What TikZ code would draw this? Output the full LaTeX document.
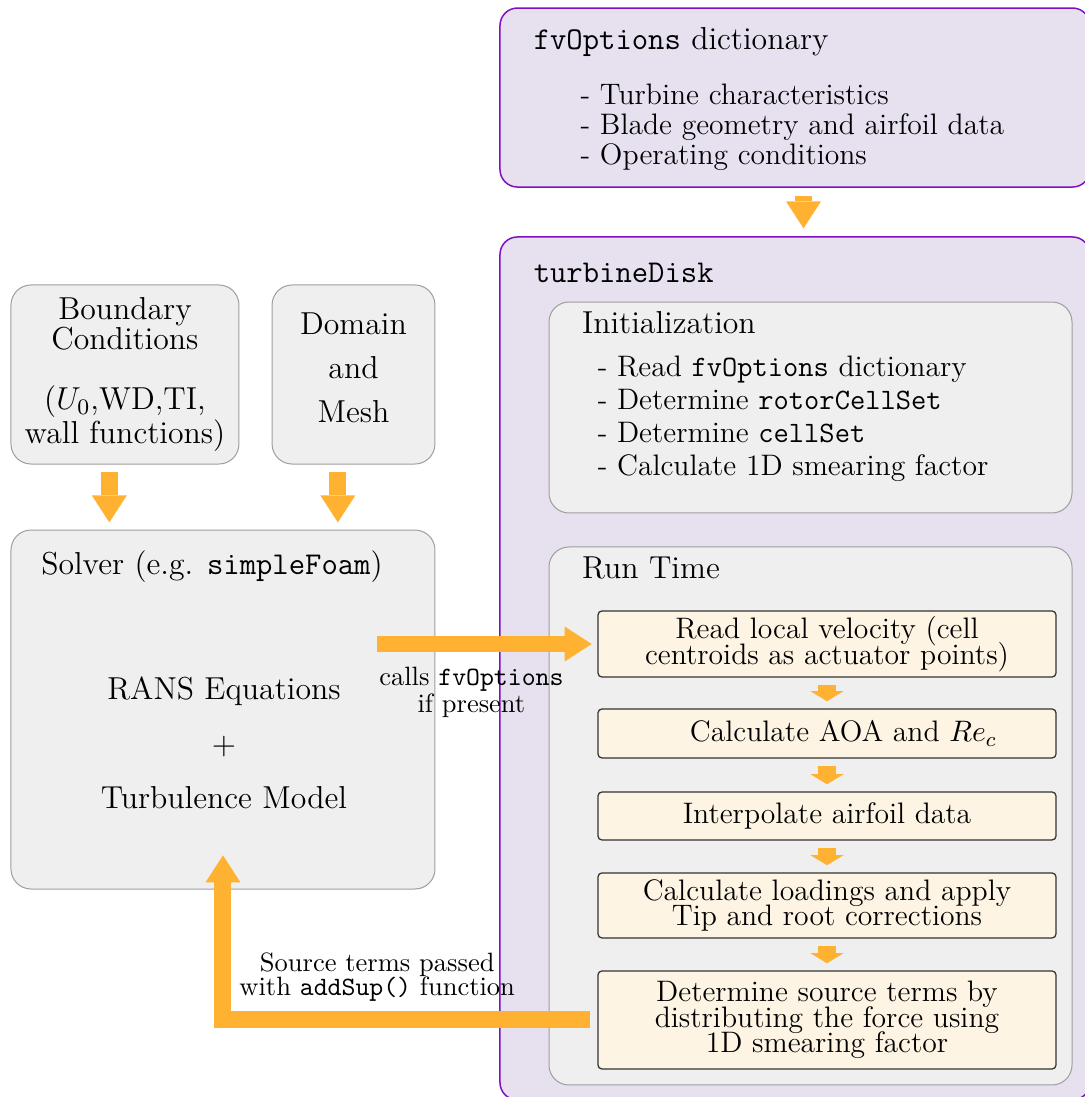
\documentclass[tikz,border=0pt]{standalone}
\usepackage{fix-cm}
\usepackage{amsmath}
\usepackage{tikz}
\usetikzlibrary{calc}
\usetikzlibrary{arrows.meta}
\usepackage{xcolor}

\definecolor{flow}{HTML}{FFB232}
\definecolor{diskfill}{HTML}{E6E0EF}
\definecolor{diskborder}{HTML}{8010C0}
\definecolor{grayfill}{HTML}{EFEFEF}
\definecolor{grayborder}{HTML}{9E9E9E}
\definecolor{stepfill}{HTML}{FDF4E3}
\definecolor{stepborder}{HTML}{333333}

\newcommand{\steptext}{\fontsize{11.85}{10.2}\selectfont\setlength{\lineskiplimit}{-20pt}}

\tikzset{
    diskbox/.style={draw=diskborder, fill=diskfill, line width=0.6pt, rounded corners=7pt, inner sep=0pt},
    graybox/.style={draw=grayborder, fill=grayfill, line width=0.4pt, rounded corners=8pt, inner sep=0pt, align=center},
    stepbox/.style={draw=stepborder, fill=stepfill, line width=0.5pt, rounded corners=1.6pt, minimum width=6.44cm, inner ysep=0pt, align=center, font=\steptext},
    bigtext/.style={font=\fontsize{12.7}{12}\selectfont},
    bigarrow/.style={draw=flow, line width=6.8pt, -{Triangle[width=14pt,length=10.8pt,line width=0pt]}},
    smallarrow/.style={draw=flow, line width=7.2pt, -{Triangle[width=13.2pt,length=4pt,line width=0pt]}},
    flowlabel/.style={align=center, font=\fontsize{10.6}{9.6}\selectfont, inner sep=1pt}
}

\begin{document}
\begin{tikzpicture}
    \useasboundingbox (0,0) rectangle (15.254,-15.423);

    % solver side
    \node[graybox, minimum width=3.205cm, minimum height=2.517cm, font=\fontsize{12.7}{12}\selectfont] (bc) at (1.757,-5.265) {Boundary\\Conditions\\[12pt] ($U_0$,WD,TI,\\wall functions)};
    \node[graybox, minimum width=2.29cm, minimum height=2.517cm, font=\fontsize{12.7}{17.6}\selectfont] (mesh) at (4.97,-5.265) {Domain\\and\\Mesh\\[-12pt]};
    \node[graybox, minimum width=5.961cm, minimum height=5.047cm] (solver) at (3.135,-9.975) {};
    \node[bigtext] (solvertitle) at (2.98,-7.97) {Solver (e.g. \texttt{simpleFoam})};
    \node[align=center, font=\fontsize{12.7}{21.8}\selectfont] (rans) at (3.149,-10.446) {RANS Equations\\$+$\\Turbulence Model};

    % fvOptions and turbineDisk
    \node[diskbox, minimum width=8.295cm, minimum height=2.517cm] (fvbox) at (11.177,-1.371) {};
    \node[bigtext, anchor=west] (fvtitle) at (7.38,-0.59) {\texttt{fvOptions} dictionary};
    \node[anchor=west, align=left, font=\fontsize{11.85}{12}\selectfont] (fvlist) at (8.04,-1.785) {- Turbine characteristics\\- Blade geometry and airfoil data\\- Operating conditions};

    \node[diskbox, minimum width=8.295cm, minimum height=12.133cm] (disk) at (11.177,-9.398) {};
    \node[bigtext, anchor=west] (disktitle) at (7.38,-3.84) {\texttt{turbineDisk}};

    \node[graybox, minimum width=7.353cm, minimum height=2.966cm] (init) at (11.395,-5.729) {};
    \node[bigtext, anchor=west] (inittitle) at (8.06,-4.54) {Initialization};
    \node[anchor=west, align=left, font=\fontsize{11.85}{13.2}\selectfont] (initlist) at (8.28,-5.89) {- Read \texttt{fvOptions} dictionary\\- Determine \texttt{rotorCellSet}\\- Determine \texttt{cellSet}\\- Calculate 1D smearing factor};

    \node[graybox, minimum width=7.353cm, minimum height=7.564cm] (runtime) at (11.395,-11.472) {};
    \node[bigtext, anchor=west] (runtitle) at (8.06,-7.99) {Run Time};

    \node[stepbox, minimum height=0.928cm] (velocity) at (11.627,-9.054) {Read local velocity (cell\\centroids as actuator points)};
    \node[stepbox, minimum height=0.689cm] (aoa) at (11.627,-10.312) {\hspace*{13pt}Calculate AOA and $Re_c$};
    \node[stepbox, minimum height=0.675cm] (interp) at (11.627,-11.472) {Interpolate airfoil data};
    \node[stepbox, minimum height=0.914cm] (loads) at (11.627,-12.730) {Calculate loadings and apply\\Tip and root corrections};
    \node[stepbox, minimum height=1.378cm] (source) at (11.627,-14.340) {Determine source terms by\\distributing the force using\\1D smearing factor};

    % arrows
    \draw[bigarrow] ($(bc.south)+(-0.22,-0.11)$) -- ($(bc.south |- solver.north)+(-0.22,0.1)$);
    \draw[bigarrow] ($(mesh.south)+(-0.22,-0.11)$) -- ($(mesh.south |- solver.north)+(-0.22,0.1)$);
    \draw[bigarrow] ($(fvbox.south)+(0.12,-0.11)$) -- ($(fvbox.south |- disk.north)+(0.12,0.11)$);

    \foreach \a/\b in {velocity/aoa, aoa/interp, interp/loads, loads/source}
        \draw[smallarrow] ($(\a.south)+(0,-0.1)$) -- ($(\b.north)+(0,0.1)$);

    \coordinate (callfrom) at (5.30,-9.054);
    \draw[bigarrow] (callfrom) -- ($(velocity.west)+(-0.08,0)$) node[flowlabel, pos=0.44, below, yshift=-0.17cm] {calls \texttt{fvOptions}\\if present};

    \draw[bigarrow] ($(source.west)+(-0.1,0)$) -| ($(solver.south)+(0,0.48)$) node[flowlabel, pos=0.29, above, yshift=0.1cm] {Source terms passed\\with \texttt{addSup()} function};
\end{tikzpicture}
\end{document}
